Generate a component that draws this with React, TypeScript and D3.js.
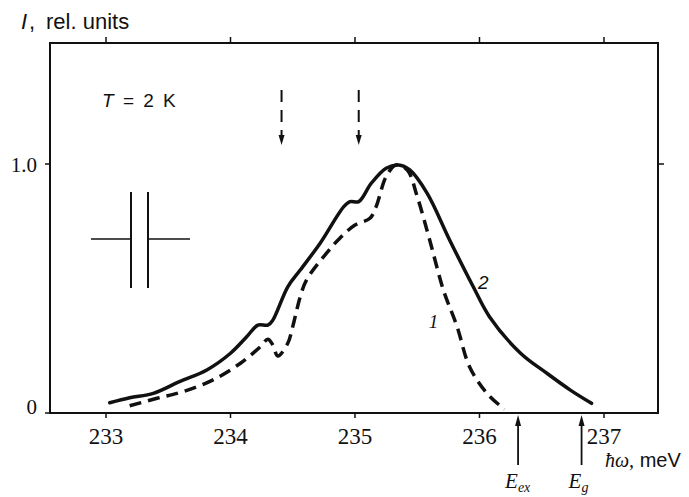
import { useEffect, useRef } from "react";
import * as d3 from "d3";

// curve 1 (dashed)
const energy1 = [
  233.19, 233.41, 233.62, 233.86, 234.08, 234.24, 234.3, 234.34, 234.38, 234.46,
  234.5, 234.56, 234.61, 234.77, 234.88, 235.0, 235.12, 235.17, 235.25, 235.33,
  235.42, 235.5, 235.6, 235.71, 235.82, 235.92, 236.06, 236.2,
];
const intensity1 = [
  0.029, 0.059, 0.086, 0.133, 0.2, 0.266, 0.296, 0.273, 0.229, 0.28,
  0.347, 0.467, 0.534, 0.641, 0.703, 0.755, 0.782, 0.829, 0.949, 0.996,
  0.976, 0.869, 0.695, 0.494, 0.347, 0.186, 0.079, 0.015,
];

// curve 2 (solid)
const energy2 = [
  233.03, 233.19, 233.38, 233.59, 233.81, 234.0, 234.13, 234.22, 234.3, 234.34,
  234.46, 234.56, 234.72, 234.91, 234.96, 235.03, 235.13, 235.25, 235.35, 235.44,
  235.58, 235.76, 235.95, 236.08, 236.33, 236.54, 236.73, 236.9,
];
const intensity2 = [
  0.041, 0.061, 0.079, 0.126, 0.173, 0.24, 0.306, 0.353, 0.353, 0.373,
  0.507, 0.574, 0.682, 0.829, 0.849, 0.849, 0.922, 0.983, 0.996, 0.976,
  0.882, 0.695, 0.507, 0.387, 0.24, 0.16, 0.092, 0.039,
];

const xTicks = [233, 234, 235, 236, 237];
const yTicks = [0, 1.0];
const yTickLabels = ["0", "1.0"];

// dashed arrows marking the features
const featureEnergies = [234.41, 235.03];
// E_ex and E_g arrows under the axis
const edgeEnergies = [236.31, 236.82];
const edgeSubscripts = ["ex", "g"];

// curve number labels
const curveLabels = ["1", "2"];
const curveLabelEnergy = [235.63, 236.03];
const curveLabelIntensity = [0.36, 0.52];

export default function App() {
  const svgRef = useRef<SVGSVGElement | null>(null);

  useEffect(() => {
    if (!svgRef.current) return;
    const W = 689;
    const H = 497;
    const margin = { top: 43, right: 31, bottom: 84, left: 50 };

    const svg = d3.select(svgRef.current);
    svg.selectAll("*").remove();
    svg.attr("width", W).attr("height", H);

    const x = d3
      .scaleLinear()
      .domain([232.55, 237.434])
      .range([margin.left, W - margin.right]);
    const y = d3
      .scaleLinear()
      .domain([0, 1.486])
      .range([H - margin.bottom, margin.top]);

    const ink = "#111";
    const x0 = margin.left;
    const x1 = W - margin.right;
    const y0 = H - margin.bottom;
    const y1 = margin.top;

    // frame
    svg
      .append("rect")
      .attr("x", x0)
      .attr("y", y1)
      .attr("width", x1 - x0)
      .attr("height", y0 - y1)
      .attr("fill", "none")
      .attr("stroke", ink)
      .attr("stroke-width", 2);

    // x ticks (bottom + top)
    xTicks.forEach((t) => {
      svg
        .append("line")
        .attr("x1", x(t))
        .attr("x2", x(t))
        .attr("y1", y0)
        .attr("y2", y0 + 5)
        .attr("stroke", ink)
        .attr("stroke-width", 1.5);
      svg
        .append("line")
        .attr("x1", x(t))
        .attr("x2", x(t))
        .attr("y1", y1)
        .attr("y2", y1 - 6)
        .attr("stroke", ink)
        .attr("stroke-width", 1.5);
      svg
        .append("text")
        .attr("x", x(t))
        .attr("y", y0 + 31)
        .attr("text-anchor", "middle")
        .attr("font-family", "Liberation Serif, serif")
        .attr("font-size", 23)
        .attr("fill", ink)
        .text(t);
    });

    // y ticks (left + right)
    yTicks.forEach((t, i) => {
      svg
        .append("line")
        .attr("x1", x0 - 5)
        .attr("x2", x0)
        .attr("y1", y(t))
        .attr("y2", y(t))
        .attr("stroke", ink)
        .attr("stroke-width", 1.5);
      if (t > 0) {
        svg
          .append("line")
          .attr("x1", x1)
          .attr("x2", x1 + 6)
          .attr("y1", y(t))
          .attr("y2", y(t))
          .attr("stroke", ink)
          .attr("stroke-width", 1.5);
      }
      svg
        .append("text")
        .attr("x", x0 - 13)
        .attr("y", y(t) + (t === 0 ? 1 : 8))
        .attr("text-anchor", "end")
        .attr("font-family", "Liberation Serif, serif")
        .attr("font-size", 21)
        .attr("fill", ink)
        .text(yTickLabels[i]);
    });

    // y axis title
    const yTitle = svg
      .append("text")
      .attr("y", 29)
      .attr("font-family", "Liberation Sans, sans-serif")
      .attr("font-size", 22)
      .attr("fill", ink);
    yTitle.append("tspan").attr("x", 21).attr("font-style", "italic").text("I");
    yTitle.append("tspan").attr("x", 29).text(",");
    yTitle.append("tspan").attr("x", 46).text("rel. units");

    // x axis title
    const xTitle = svg
      .append("text")
      .attr("x", 605)
      .attr("y", 467)
      .attr("font-size", 20)
      .attr("fill", ink);
    xTitle
      .append("tspan")
      .attr("font-family", "Liberation Serif, serif")
      .attr("font-style", "italic")
      .text("ħω,");
    xTitle
      .append("tspan")
      .attr("font-family", "Liberation Sans, sans-serif")
      .text(" meV");

    // curves
    const line = d3
      .line<[number, number]>()
      .x((d) => x(d[0]))
      .y((d) => y(d[1]))
      .curve(d3.curveCatmullRom.alpha(0.5));

    const pts1 = energy1.map((e, i) => [e, intensity1[i]] as [number, number]);
    const pts2 = energy2.map((e, i) => [e, intensity2[i]] as [number, number]);

    svg
      .append("path")
      .attr("d", line(pts2) ?? "")
      .attr("fill", "none")
      .attr("stroke", ink)
      .attr("stroke-width", 3.5)
      .attr("stroke-linecap", "round")
      .attr("stroke-linejoin", "round");

    svg
      .append("path")
      .attr("d", line(pts1) ?? "")
      .attr("fill", "none")
      .attr("stroke", ink)
      .attr("stroke-width", 3.5)
      .attr("stroke-dasharray", "12 7");

    // curve labels
    curveLabels.forEach((lab, i) => {
      svg
        .append("text")
        .attr("x", x(curveLabelEnergy[i]))
        .attr("y", y(curveLabelIntensity[i]))
        .attr("text-anchor", "middle")
        .attr("dominant-baseline", "middle")
        .attr("font-family", i === 0 ? "Liberation Serif, serif" : "Liberation Sans, sans-serif")
        .attr("font-style", "italic")
        .attr("font-size", 19)
        .attr("fill", ink)
        .text(lab);
    });

    // dashed feature arrows
    featureEnergies.forEach((e) => {
      const xx = x(e);
      const top = y(1.297);
      const tip = y(1.076);
      svg
        .append("line")
        .attr("x1", xx)
        .attr("x2", xx)
        .attr("y1", top)
        .attr("y2", tip - 9)
        .attr("stroke", ink)
        .attr("stroke-width", 2)
        .attr("stroke-dasharray", "12 8");
      svg
        .append("path")
        .attr("d", `M${xx - 3},${tip - 10} L${xx + 3},${tip - 10} L${xx},${tip} Z`)
        .attr("fill", ink);
    });

    // E_ex / E_g arrows
    edgeEnergies.forEach((e, i) => {
      const xx = x(e);
      svg
        .append("line")
        .attr("x1", xx)
        .attr("x2", xx)
        .attr("y1", y0 + 52)
        .attr("y2", y0 + 10)
        .attr("stroke", ink)
        .attr("stroke-width", 1.8);
      svg
        .append("path")
        .attr("d", `M${xx - 3},${y0 + 13} L${xx + 3},${y0 + 13} L${xx},${y0 + 2} Z`)
        .attr("fill", ink);
      const lab = svg
        .append("text")
        .attr("x", xx - 13)
        .attr("y", y0 + 75)
        .attr("font-family", "Liberation Serif, serif")
        .attr("font-style", "italic")
        .attr("font-size", 21)
        .attr("fill", ink);
      lab.append("tspan").text("E");
      lab
        .append("tspan")
        .attr("font-size", 14)
        .attr("dy", 4)
        .text(edgeSubscripts[i]);
    });

    // T = 2 K
    const tLabel = svg
      .append("text")
      .attr("x", 102)
      .attr("y", 107)
      .attr("font-family", "Liberation Sans, sans-serif")
      .attr("font-size", 19)
      .attr("word-spacing", 4)
      .attr("fill", ink);
    tLabel.append("tspan").attr("font-style", "italic").text("T");
    tLabel.append("tspan").text(" = 2 K");

    // capacitor symbol
    const cap = svg.append("g").attr("stroke", ink);
    cap.append("line").attr("x1", 91).attr("x2", 131).attr("y1", 239).attr("y2", 239).attr("stroke-width", 1.5);
    cap.append("line").attr("x1", 148).attr("x2", 190).attr("y1", 239).attr("y2", 239).attr("stroke-width", 1.5);
    cap.append("line").attr("x1", 131).attr("x2", 131).attr("y1", 192).attr("y2", 288).attr("stroke-width", 2);
    cap.append("line").attr("x1", 148).attr("x2", 148).attr("y1", 192).attr("y2", 288).attr("stroke-width", 2);
  }, []);

  return (
    <div style={{ position: "absolute", left: 0, top: 0, background: "#fff" }}>
      <svg ref={svgRef} style={{ display: "block" }}></svg>
    </div>
  );
}
